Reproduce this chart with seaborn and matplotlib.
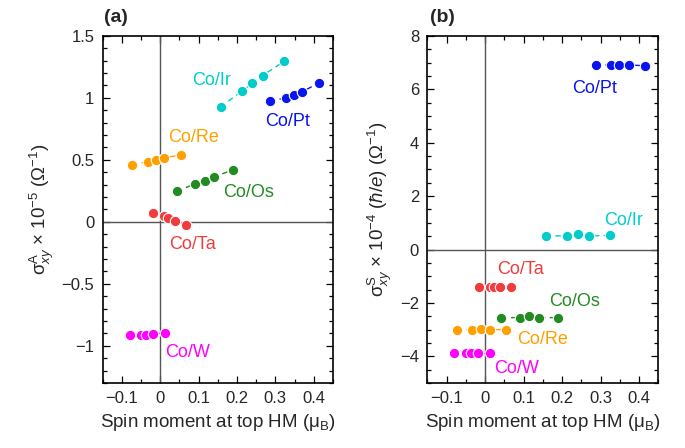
import matplotlib
matplotlib.use("Agg")
import matplotlib.pyplot as plt
import seaborn as sns
from matplotlib.ticker import MultipleLocator

# ---- panel (a): anomalous Hall conductivity ----
names = ["Co/Ir", "Co/Pt", "Co/Re", "Co/Os", "Co/Ta", "Co/W"]
colors = ["#00cccc", "#0a14f0", "#ffa000", "#228b22", "#f03c3c", "#ff00ff"]

a_x = {
    "Co/Ir": [0.157, 0.213, 0.240, 0.267, 0.323],
    "Co/Pt": [0.286, 0.327, 0.348, 0.370, 0.413],
    "Co/Re": [-0.074, -0.033, -0.012, 0.010, 0.053],
    "Co/Os": [0.043, 0.091, 0.116, 0.140, 0.189],
    "Co/Ta": [-0.019, 0.009, 0.021, 0.039, 0.066],
    "Co/W": [-0.080, -0.051, -0.038, -0.020, 0.011],
}
a_y = {
    "Co/Ir": [0.926, 1.055, 1.117, 1.180, 1.295],
    "Co/Pt": [0.973, 1.000, 1.019, 1.049, 1.120],
    "Co/Re": [0.461, 0.486, 0.500, 0.514, 0.541],
    "Co/Os": [0.248, 0.306, 0.330, 0.361, 0.420],
    "Co/Ta": [0.074, 0.044, 0.027, 0.008, -0.025],
    "Co/W": [-0.912, -0.912, -0.910, -0.904, -0.896],
}
a_lab = {
    "Co/Ir": (0.133, 1.137), "Co/Pt": (0.331, 0.809), "Co/Re": (0.088, 0.678),
    "Co/Os": (0.230, 0.240), "Co/Ta": (0.084, -0.18), "Co/W": (0.072, -1.05),
}

# ---- panel (b): spin Hall conductivity ----
b_x = {
    "Co/Ir": [0.157, 0.212, 0.242, 0.269, 0.324],
    "Co/Pt": [0.287, 0.328, 0.349, 0.373, 0.416],
    "Co/Re": [-0.074, -0.033, -0.011, 0.012, 0.055],
    "Co/Os": [0.042, 0.091, 0.115, 0.140, 0.190],
    "Co/Ta": [-0.017, 0.013, 0.023, 0.039, 0.067],
    "Co/W": [-0.081, -0.049, -0.037, -0.019, 0.012],
}
b_y = {
    "Co/Ir": [0.51, 0.51, 0.585, 0.51, 0.525],
    "Co/Pt": [6.91, 6.91, 6.91, 6.91, 6.88],
    "Co/Re": [-3.0, -3.0, -2.98, -3.0, -3.0],
    "Co/Os": [-2.55, -2.55, -2.49, -2.55, -2.55],
    "Co/Ta": [-1.40, -1.40, -1.40, -1.40, -1.40],
    "Co/W": [-3.88, -3.88, -3.88, -3.88, -3.88],
}
b_lab = {
    "Co/Ir": (0.359, 1.07), "Co/Pt": (0.284, 6.04), "Co/Re": (0.149, -3.37),
    "Co/Os": (0.232, -1.96), "Co/Ta": (0.092, -0.75), "Co/W": (0.082, -4.46),
}

sns.set_theme(style="ticks")
plt.rcParams["font.family"] = ["Liberation Sans", "DejaVu Sans"]
plt.rcParams["mathtext.fontset"] = "custom"
plt.rcParams["mathtext.rm"] = "Liberation Sans"
plt.rcParams["mathtext.it"] = "Liberation Sans:italic"
plt.rcParams["mathtext.bf"] = "Liberation Sans:bold"

fig = plt.figure(figsize=(6.85, 4.48), dpi=100)
ax1 = fig.add_axes([0.150, 0.145, 0.336, 0.775])
ax2 = fig.add_axes([0.624, 0.145, 0.337, 0.775])


def draw(ax, xs, ys, labs):
    ax.axvline(0, color="#555555", lw=1.0, zorder=1)
    ax.axhline(0, color="#555555", lw=1.0, zorder=1)
    for name, c in zip(names, colors):
        sns.lineplot(x=xs[name], y=ys[name], ax=ax, color=c, sort=False,
                     marker="o", markersize=7.5, markeredgewidth=0.8,
                     markeredgecolor="white",
                     linestyle=(0, (4, 3)), lw=1.0, zorder=3)
        lx, ly = labs[name]
        ax.text(lx, ly, name, color=c, fontsize=13, ha="center", va="center")
    ax.set_xlim(-0.15, 0.45)
    ax.set_xticks([-0.1, 0, 0.1, 0.2, 0.3, 0.4])
    ax.set_xticklabels(["\u22120.1", "0", "0.1", "0.2", "0.3", "0.4"])
    ax.xaxis.set_minor_locator(MultipleLocator(0.05))
    ax.tick_params(which="both", direction="in", top=True, right=True,
                   labelsize=12, width=0.9, color="black")
    ax.tick_params(which="major", length=5, pad=6)
    ax.tick_params(which="minor", length=3)
    for s in ax.spines.values():
        s.set_linewidth(1.2)
        s.set_color("black")
    ax.set_xlabel(r"Spin moment at top HM ($\mathrm{\mu_B}$)", fontsize=13.5)


draw(ax1, a_x, a_y, a_lab)
ax1.set_ylim(-1.3, 1.5)
ax1.set_yticks([-1, -0.5, 0, 0.5, 1, 1.5])
ax1.set_yticklabels(["\u22121", "\u22120.5", "0", "0.5", "1", "1.5"])
ax1.yaxis.set_minor_locator(MultipleLocator(0.1))
ax1.set_ylabel(r"$\mathrm{\sigma}^{\mathrm{A}}_{xy}$ $\times$ 10$^{-5}$ ($\Omega^{-1}$)",
               fontsize=13.5)

draw(ax2, b_x, b_y, b_lab)
ax2.set_ylim(-5, 8)
ax2.yaxis.set_major_locator(MultipleLocator(2))
ax2.yaxis.set_minor_locator(MultipleLocator(0.5))
ax2.set_ylabel(r"$\mathrm{\sigma}^{\mathrm{S}}_{xy}$ $\times$ 10$^{-4}$ ($\hbar/e$) ($\Omega^{-1}$)",
               fontsize=13.5)

fig.text(0.152, 0.962, "(a)", fontsize=14, fontweight="bold", ha="left", va="center")
fig.text(0.628, 0.962, "(b)", fontsize=14, fontweight="bold", ha="left", va="center")

fig.savefig("out.png", dpi=100)
